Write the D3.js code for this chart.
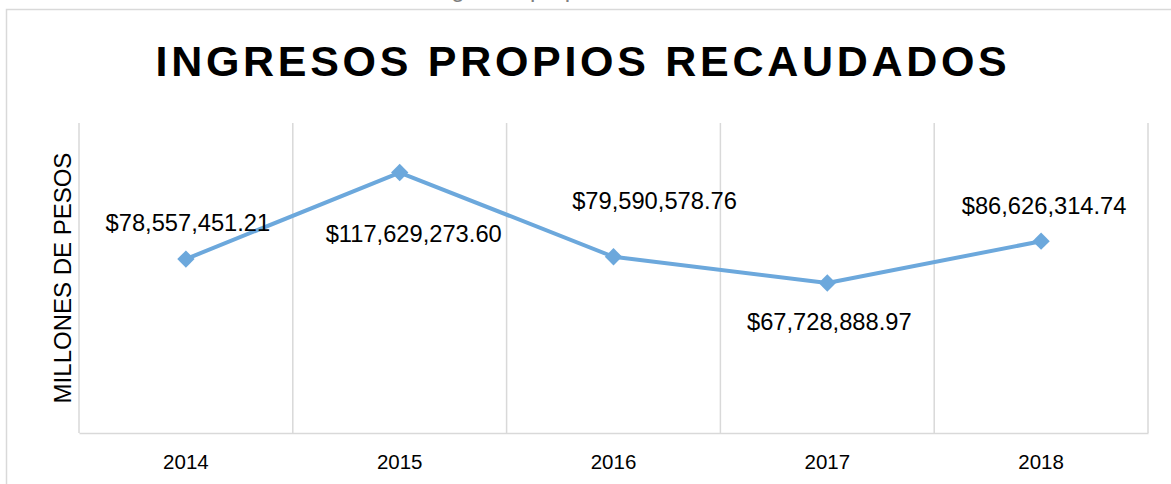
<!DOCTYPE html>
<html>
<head>
<meta charset="utf-8">
<script src="https://cdn.jsdelivr.net/npm/d3@7"></script>
<style>
  body { margin: 0; background: #fff; }
  svg { display: block; font-family: "Liberation Sans", Arial, sans-serif; }
</style>
</head>
<body>
<div id="chart"></div>
<script>
var years = ["2014", "2015", "2016", "2017", "2018"];
var ingresos = [78557451.21, 117629273.60, 79590578.76, 67728888.97, 86626314.74];
var labels = ["$78,557,451.21", "$117,629,273.60", "$79,590,578.76", "$67,728,888.97", "$86,626,314.74"];

var W = 1171, H = 484;
var margin = { top: 123, right: 23, bottom: 51, left: 79 },
    width = W - margin.left - margin.right,
    height = H - margin.top - margin.bottom;

// label placement relative to each point (Excel put them by hand)
var labelOffsets = [[2, -28], [14, 69], [41, -48], [2, 47], [3, -27]];

var svg = d3.select("#chart")
    .append("svg")
    .attr("width", W)
    .attr("height", H);

// cut-off caption from the page above
svg.append("text")
    .attr("x", 520)
    .attr("y", -3)
    .attr("text-anchor", "middle")
    .attr("fill", "#7f7f7f")
    .style("font-size", "24px")
    .text("Ingresos propios");

// chart outer border
svg.append("rect")
    .attr("x", 6.5)
    .attr("y", 9.5)
    .attr("width", W + 20)
    .attr("height", H + 20)
    .attr("fill", "none")
    .attr("stroke", "#d9d9d9")
    .attr("stroke-width", 1.5);

svg.append("text")
    .attr("x", 583)
    .attr("y", 76)
    .attr("text-anchor", "middle")
    .style("font-size", "43px")
    .style("font-weight", "bold")
    .style("letter-spacing", "3.7px")
    .text("INGRESOS PROPIOS RECAUDADOS");

var g = svg.append("g")
    .attr("transform", "translate(" + margin.left + "," + margin.top + ")");

var x = d3.scaleBand()
    .domain(years)
    .range([0, width]);

var y = d3.scaleLinear()
    .domain([0, 140000000])
    .range([height, 0]);

// vertical gridlines at band edges
var edges = years.map(function (d) { return x(d); }).concat([width]);
g.selectAll(".grid")
    .data(edges)
    .enter()
    .append("line")
    .attr("class", "grid")
    .attr("x1", function (d) { return d; })
    .attr("x2", function (d) { return d; })
    .attr("y1", 0)
    .attr("y2", height)
    .attr("stroke", "#d9d9d9")
    .attr("stroke-width", 1.5);

// x axis
var xAxis = g.append("g")
    .attr("transform", "translate(0," + height + ")")
    .call(d3.axisBottom(x).tickSize(0).tickPadding(21));
xAxis.select(".domain").attr("stroke", "#d9d9d9").attr("stroke-width", 1.5);
xAxis.selectAll("text")
    .style("font-size", "20.5px")
    .style("font-family", "'Liberation Sans', Arial, sans-serif")
    .attr("fill", "#000");

// y axis title
svg.append("text")
    .attr("transform", "translate(71,278) rotate(-90)")
    .attr("text-anchor", "middle")
    .style("font-size", "24px")
    .text("MILLONES DE PESOS");

var pts = years.map(function (d, i) {
    return [x(d) + x.bandwidth() / 2, y(ingresos[i])];
});

g.append("path")
    .datum(pts)
    .attr("fill", "none")
    .attr("stroke", "#6ca8dc")
    .attr("stroke-width", 4)
    .attr("stroke-linejoin", "round")
    .attr("d", d3.line());

g.selectAll(".marker")
    .data(pts)
    .enter()
    .append("path")
    .attr("class", "marker")
    .attr("d", d3.symbol().type(d3.symbolSquare).size(150))
    .attr("transform", function (d) { return "translate(" + d[0] + "," + d[1] + ") rotate(45)"; })
    .attr("fill", "#6ca8dc");

g.selectAll(".lbl")
    .data(pts)
    .enter()
    .append("text")
    .attr("class", "lbl")
    .attr("x", function (d, i) { return d[0] + labelOffsets[i][0]; })
    .attr("y", function (d, i) { return d[1] + labelOffsets[i][1]; })
    .attr("text-anchor", "middle")
    .style("font-size", "23.7px")
    .attr("fill", "#000")
    .text(function (d, i) { return labels[i]; });
</script>
</body>
</html>
